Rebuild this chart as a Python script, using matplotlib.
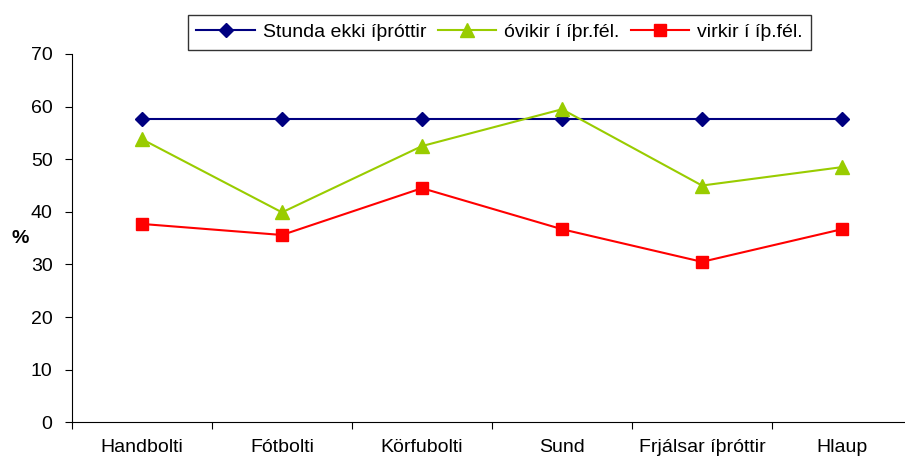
import matplotlib.pyplot as plt
import numpy as np

plt.rcParams['font.family'] = ['Liberation Sans', 'DejaVu Sans']

# Flokkar og gildi (%)
flokkar = ['Handbolti', 'Fótbolti', 'Körfubolti', 'Sund', 'Frjálsar íþróttir', 'Hlaup']
stunda_ekki = [57.6, 57.6, 57.6, 57.6, 57.6, 57.6]
ovirkir = [53.8, 39.9, 52.5, 59.5, 45.0, 48.5]
virkir = [37.7, 35.6, 44.5, 36.7, 30.5, 36.7]

fig = plt.figure(figsize=(9.05, 4.61), dpi=100)
ax = fig.add_axes([72 / 905, 38.7 / 461, 840 / 905, 368.3 / 461])

x = np.arange(len(flokkar))
ax.plot(x, stunda_ekki, color='#000080', marker='D', markersize=7.5, lw=1.5,
        label='Stunda ekki íþróttir')
ax.plot(x, ovirkir, color='#99CC00', marker='^', markersize=10, lw=1.5,
        label='óvikir í íþr.fél.')
ax.plot(x, virkir, color='#FF0000', marker='s', markersize=8, lw=1.5,
        label='virkir í íþ.fél.')

ax.set_xlim(-0.5, len(flokkar) - 0.5)
ax.set_ylim(0, 70)
ax.set_yticks(range(0, 71, 10))
ax.set_xticks(np.arange(len(flokkar) + 1) - 0.5)
ax.set_xticklabels([])
ax.set_xticks(x, minor=True)
ax.set_xticklabels(flokkar, minor=True, fontsize=14)
ax.tick_params(axis='x', which='minor', length=0, pad=12)
ax.tick_params(axis='x', which='major', length=5, direction='out')
ax.tick_params(axis='y', length=5, direction='out', labelsize=14, pad=9)

for s in ['top', 'right']:
    ax.spines[s].set_visible(False)
ax.spines['left'].set_linewidth(0.8)
ax.spines['bottom'].set_linewidth(0.8)

fig.text(20 / 905, 1 - 238 / 461, '%', fontsize=14, fontweight='bold',
         ha='center', va='center')

leg = fig.legend(loc='center', bbox_to_anchor=(499.5 / 905, 1 - 32.5 / 461), ncol=3,
                 fontsize=14, frameon=True, fancybox=False, edgecolor='black',
                 handlelength=3.0, columnspacing=0.6, handletextpad=0.4,
                 borderpad=0.45, borderaxespad=0)
leg.get_frame().set_linewidth(1.0)

fig.savefig('out.png', dpi=100)
